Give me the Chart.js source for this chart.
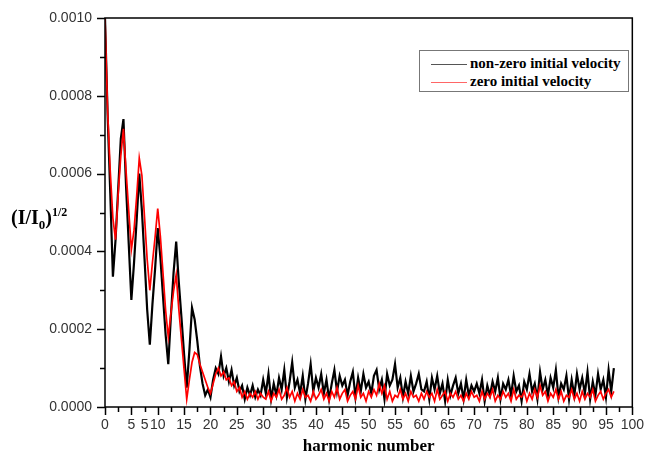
<!DOCTYPE html>
<html>
<head>
<meta charset="utf-8">
<script src="https://cdn.jsdelivr.net/npm/chart.js@4/dist/chart.umd.min.js"></script>
<style>
  body { margin: 0; background: #fff; }
  #wrap { position: relative; width: 646px; height: 460px; }
  #ylabel { position: absolute; left: 11px; top: 205px; font: bold 20px "Liberation Serif", serif; color: #000; white-space: nowrap; }
  #ylabel sub { font-size: 13px; }
  #ylabel sup { font-size: 12px; }
  #legend { position: absolute; left: 419px; top: 50px; width: 208px; height: 40px; border: 1px solid #777; background: #fff;
            font: bold 15px "Liberation Serif", serif; color: #000; }
  #legend .row { position: absolute; left: 11px; height: 18px; line-height: 18px; white-space: nowrap; }
  #legend .line { display: inline-block; width: 36px; height: 1px; vertical-align: middle; margin-right: 3px; }
</style>
</head>
<body>
<div id="wrap">
  <canvas id="myChart" width="646" height="460"></canvas>
  <div id="ylabel">(I/I<sub>0</sub>)<sup>1/2</sup></div>
  <div id="legend">
    <div class="row" style="top:3px"><span class="line" style="background:#555"></span>non-zero initial velocity</div>
    <div class="row" style="top:21px"><span class="line" style="background:#f66"></span>zero initial velocity</div>
  </div>
</div>
<script>
// values in units of 1e-6, sampled every 0.5 harmonic from 0 to 96.5
const step = 0.5;

const nonZeroVel = [
  1000, 750, 550, 335, 430, 560, 690, 740, 565, 420, 275, 370, 480, 600, 505, 380, 250, 160, 265, 355,
  460, 385, 285, 185, 110, 235, 345, 425, 320, 230, 135, 50, 145, 255, 225, 170, 105, 60, 30, 45,
  25, 70, 100, 85, 130, 80, 100, 65, 95, 55, 75, 40, 55, 20, 50, 30, 55, 25, 45, 30, 70,
  35, 85, 20, 60, 30, 75, 45, 95, 25, 65, 115, 50, 70, 35, 80, 20, 60, 110, 40, 75,
  50, 85, 35, 70, 20, 60, 95, 40, 80, 55, 70, 30, 65, 90, 25, 75, 40, 85, 50, 65,
  35, 80, 95, 45, 70, 20, 85, 55, 70, 110, 50, 75, 25, 65, 35, 80, 40, 60, 85, 45,
  40, 65, 20, 75, 45, 80, 35, 60, 15, 70, 30, 55, 75, 35, 60, 20, 70, 30, 55, 40,
  60, 35, 70, 15, 55, 30, 65, 40, 75, 20, 60, 45, 70, 30, 80, 40, 55, 15, 65, 45,
  85, 40, 60, 20, 90, 45, 70, 30, 75, 50, 95, 25, 60, 45, 80, 20, 70, 30, 85, 45,
  75, 35, 90, 20, 65, 30, 85, 45, 70, 25, 95, 40, 100
];

const zeroVel = [
  1000, 760, 605, 485, 430, 548, 646, 715, 605, 505, 405, 454, 540, 640, 595, 487, 379, 300, 372, 437,
  510, 439, 344, 248, 180, 241, 298, 340, 251, 173, 96, 20, 70, 115, 140, 135, 110, 90, 70, 50,
  35, 60, 85, 100, 80, 90, 70, 75, 55, 65, 40, 50, 25, 40, 20, 35, 25, 40, 20, 35, 25,
  20, 40, 15, 35, 25, 45, 20, 30, 50, 25, 40, 15, 35, 20, 45, 25, 30, 15, 40, 20,
  30, 45, 20, 35, 15, 40, 25, 50, 20, 35, 45, 15, 30, 40, 20, 55, 25, 35, 15, 40,
  25, 45, 30, 60, 35, 55, 20, 40, 15, 30, 25, 45, 20, 35, 15, 40, 25, 30, 15, 35,
  20, 40, 25, 35, 15, 45, 20, 30, 40, 15, 35, 25, 40, 20, 30, 15, 35, 20, 40, 25,
  30, 15, 40, 20, 35, 25, 45, 15, 30, 20, 40, 25, 35, 15, 45, 20, 30, 25, 40, 15,
  35, 20, 45, 25, 55, 30, 40, 15, 35, 25, 45, 20, 40, 15, 30, 25, 45, 20, 35, 15,
  40, 20, 35, 25, 45, 15, 30, 40, 20, 35, 45, 25, 40
];

const xTickValues = [0, 5, 7.5, 10, 15, 20, 25, 30, 35, 40, 45, 50, 55, 60, 65, 70, 75, 80, 85, 90, 95, 100];
const xTickLabels = ['0', '5', '5', '10', '15', '20', '25', '30', '35', '40', '45', '50', '55', '60', '65', '70', '75', '80', '85', '90', '95', '100'];
const yTickValues = [0, 200, 400, 600, 800, 1000];
const yTickLabels = ['0.0000', '0.0002', '0.0004', '0.0006', '0.0008', '0.0010'];

const toPoints = (arr) => arr.map((v, i) => ({ x: i * step, y: v }));

// frame + major/minor tick marks
const framePlugin = {
  id: 'frame',
  afterDraw(chart) {
    const { ctx, chartArea: a, scales: { x, y } } = chart;
    ctx.save();
    ctx.strokeStyle = '#000';
    ctx.lineWidth = 1.5;
    ctx.strokeRect(a.left, a.top, a.right - a.left, a.bottom - a.top);
    ctx.beginPath();
    for (let v = 0; v <= 100; v += 2.5) {
      const px = Math.round(x.getPixelForValue(v)) + 0.5;
      const len = v % 5 === 0 ? 8 : 5;
      ctx.moveTo(px, a.bottom);
      ctx.lineTo(px, a.bottom + len);
    }
    for (let v = 0; v <= 1000; v += 100) {
      const py = Math.round(y.getPixelForValue(v)) + 0.5;
      const len = v % 200 === 0 ? 8 : 5;
      ctx.moveTo(a.left - len, py);
      ctx.lineTo(a.left, py);
    }
    ctx.stroke();
    ctx.restore();
  }
};

const ctx = document.getElementById('myChart').getContext('2d');
const myChart = new Chart(ctx, {
  type: 'line',
  data: {
    datasets: [
      { label: 'zero initial velocity', data: toPoints(zeroVel), borderColor: '#ff0000', borderWidth: 1.7, pointRadius: 0, tension: 0 },
      { label: 'non-zero initial velocity', data: toPoints(nonZeroVel), borderColor: '#000000', borderWidth: 2.2, pointRadius: 0, tension: 0 }
    ]
  },
  options: {
    responsive: false,
    animation: false,
    layout: { padding: { top: 18, right: 13, left: 0, bottom: 0 } },
    plugins: { legend: { display: false }, tooltip: { enabled: false } },
    scales: {
      x: {
        type: 'linear', min: 0, max: 100,
        afterBuildTicks: (s) => { s.ticks = xTickValues.map(v => ({ value: v })); },
        afterFit: (s) => { s.height = 53; },
        ticks: {
          autoSkip: false, maxRotation: 0, padding: 2, color: '#333',
          font: { family: 'Liberation Sans', size: 14 },
          callback: (v, i) => xTickLabels[i]
        },
        grid: { drawOnChartArea: false, tickLength: 8, tickColor: 'rgba(0,0,0,0)' },
        border: { display: false },
        title: { display: true, text: 'harmonic number', color: '#000', padding: { top: 0, bottom: 3 },
                 font: { family: 'Liberation Serif', size: 17, weight: 'bold' } }
      },
      y: {
        type: 'linear', min: 0, max: 1000,
        afterBuildTicks: (s) => { s.ticks = yTickValues.map(v => ({ value: v })); },
        afterFit: (s) => { s.width = 105; },
        ticks: {
          padding: 5, color: '#333',
          font: { family: 'Liberation Sans', size: 14 },
          callback: (v, i) => yTickLabels[i]
        },
        grid: { drawOnChartArea: false, tickLength: 8, tickColor: 'rgba(0,0,0,0)' },
        border: { display: false }
      }
    }
  },
  plugins: [framePlugin]
});
</script>
</body>
</html>
